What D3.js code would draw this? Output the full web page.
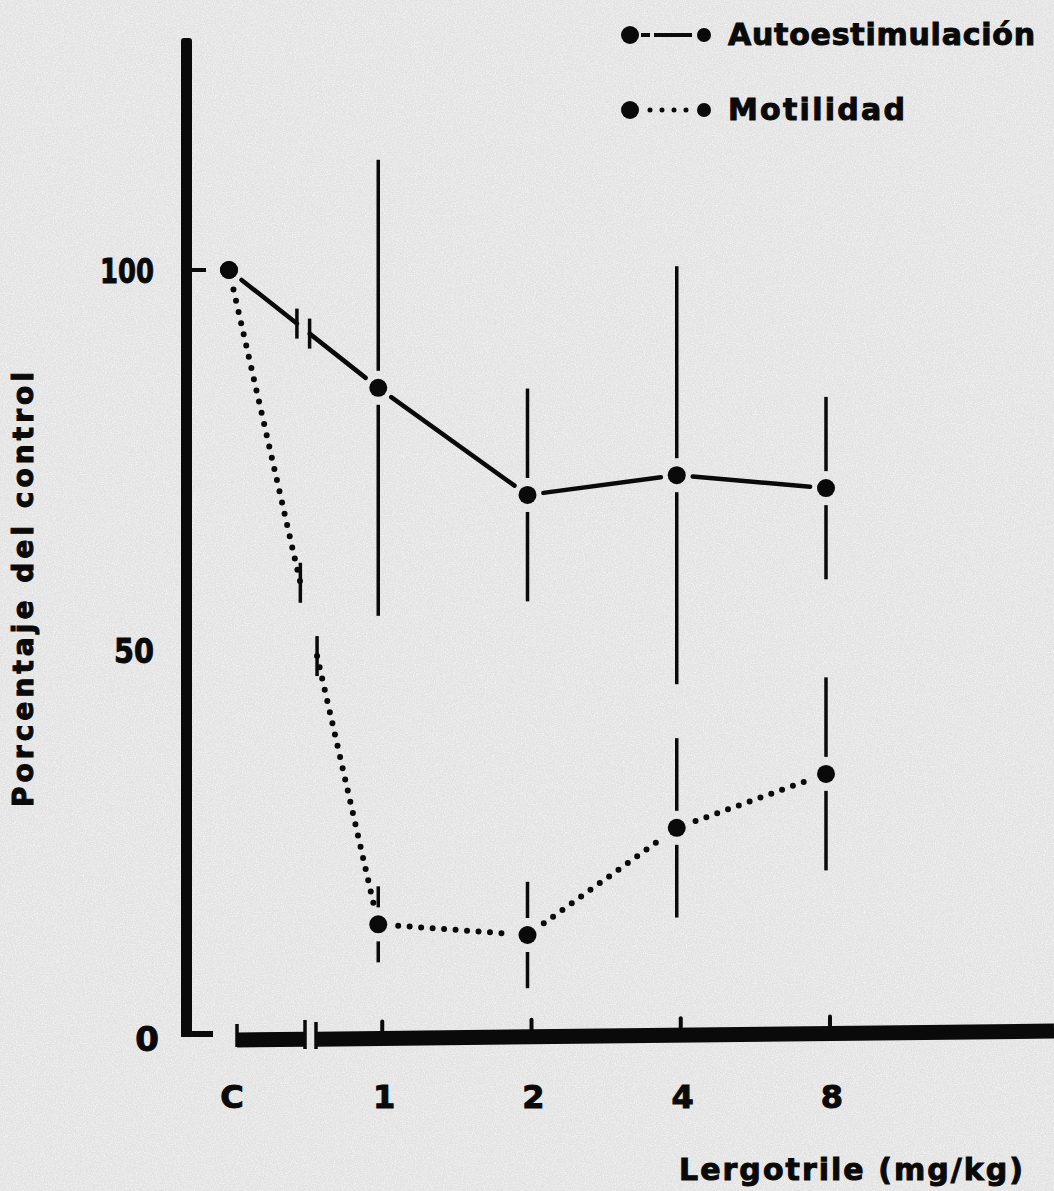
<!DOCTYPE html>
<html>
<head>
<meta charset="utf-8">
<script src="https://cdn.jsdelivr.net/npm/d3@7"></script>
<style>
  html, body { margin: 0; padding: 0; background: #e4e4e4; }
  svg { display: block; }
  text { font-family: "DejaVu Sans", "Liberation Sans", sans-serif; font-weight: 700; fill: #0a0a0a; stroke: #0a0a0a; stroke-width: 1px; }
</style>
</head>
<body>
<script>
// Dose groups (C = control) and the two measures, as % of control, with their error half-widths
const categories = ["C", "1", "2", "4", "8"];
const autoValues = [100, 84.5, 70.4, 73.0, 71.3];
const autoErrors = [0, 30, 14, 27.5, 12];
const motValues = [100, 13.9, 12.5, 26.6, 33.7];
const motErrors = [0, 5, 7, 11.8, 12.7];
const yTickValues = [0, 50, 100];
const seriesNames = ["Autoestimulación", "Motilidad"];
const xTitle = "Lergotrile (mg/kg)";
const yTitle = "Porcentaje del control";

const W = 1054, H = 1191;
const ink = "#0a0a0a";

const svg = d3.select("body").append("svg")
  .attr("width", W).attr("height", H);

// paper grain
const defs = svg.append("defs");
const grain = defs.append("filter").attr("id", "grain")
  .attr("x", 0).attr("y", 0).attr("width", "100%").attr("height", "100%");
grain.append("feTurbulence").attr("type", "fractalNoise")
  .attr("baseFrequency", 0.9).attr("numOctaves", 2).attr("seed", 7).attr("result", "n");
grain.append("feColorMatrix").attr("in", "n").attr("type", "matrix")
  .attr("values", "0 0 0 0 1  0 0 0 0 1  0 0 0 0 1  0 0 0 -2.2 1.35");

svg.append("rect").attr("width", W).attr("height", H).attr("fill", "#e2e2e2");
svg.append("rect").attr("width", W).attr("height", H).attr("filter", "url(#grain)").attr("opacity", 0.6);

const x = d3.scalePoint().domain(categories).range([229, 826]);
const y = d3.scaleLinear().domain([0, 100]).range([1030, 270]);

const g = svg.append("g");

// ---- y axis: heavy vertical rule with a foot, one tick at 100
g.append("rect").attr("x", 181).attr("y", 38).attr("width", 11).attr("height", 999)
  .attr("rx", 3).attr("fill", ink);
g.append("rect").attr("x", 181).attr("y", 1031).attr("width", 32).attr("height", 6).attr("fill", ink);
g.append("line").attr("x1", 192).attr("x2", 206).attr("y1", y(100)).attr("y2", y(100))
  .attr("stroke", ink).attr("stroke-width", 4);

g.selectAll("text.ytick").data(yTickValues).join("text")
  .attr("class", "ytick")
  .attr("x", d => d === 0 ? 159 : 154)
  .attr("y", d => y(d) + 13 + (d === 0 ? 8 : 0))
  .attr("text-anchor", "end")
  .attr("font-size", 34)
  .attr("textLength", d => d === 100 ? 54 : d === 50 ? 40 : null)
  .attr("lengthAdjust", "spacingAndGlyphs")
  .text(d => String(d));

// ---- x axis: thick broken bar with small ticks at each dose
const barL = 237, barR = W, yL = 1040, yR = 1031;
const barY = xx => yL + (yR - yL) * (xx - barL) / (barR - barL);
const brk1 = 305, brk2 = 316;
[[barL, brk1], [brk2, barR]].forEach(([a, b]) => {
  g.append("line").attr("x1", a).attr("x2", b).attr("y1", barY(a)).attr("y2", barY(b))
    .attr("stroke", ink).attr("stroke-width", 15);
});
[[barL, 1024, 1047], [brk1, 1020, 1049], [brk2, 1022, 1049]].forEach(([xx, a, b]) => {
  g.append("line").attr("x1", xx).attr("x2", xx).attr("y1", a).attr("y2", b)
    .attr("stroke", ink).attr("stroke-width", 3.5);
});
g.selectAll("line.xtick").data(categories.slice(1)).join("line")
  .attr("class", "xtick")
  .attr("x1", d => x(d) + 4).attr("x2", d => x(d) + 4)
  .attr("y1", d => barY(x(d)) - 17).attr("y2", d => barY(x(d)) - 5)
  .attr("stroke", ink).attr("stroke-width", 4).attr("stroke-linecap", "round");

g.selectAll("text.xtick").data(categories).join("text")
  .attr("class", "xtick")
  .attr("x", d => x(d) + (d === "C" ? 3 : 6))
  .attr("y", 1108)
  .attr("text-anchor", "middle")
  .attr("font-size", 32)
  .text(d => d);

// ---- axis titles
g.append("text").attr("x", 679).attr("y", 1180)
  .attr("font-size", 30).attr("textLength", 344).attr("lengthAdjust", "spacing")
  .text(xTitle);
g.append("text")
  .attr("transform", "translate(33,807) rotate(-90)")
  .attr("font-size", 28).attr("textLength", 435).attr("lengthAdjust", "spacing")
  .text(yTitle);

// ---- series
const series = [
  { values: autoValues, errors: autoErrors, dotted: false, brk: [0.455, 0.54], tick: 30 },
  { values: motValues, errors: motErrors, dotted: true, brk: [0.478, 0.59], tick: 40 }
];
const R = 9;

function lineStyle(sel, dotted) {
  sel.attr("stroke", ink).attr("fill", "none").attr("stroke-linecap", "round");
  if (dotted) sel.attr("stroke-width", 6).attr("stroke-dasharray", "0 11.5");
  else sel.attr("stroke-width", 4.5);
  return sel;
}

series.forEach(s => {
  const pts = categories.map((c, i) => ({ px: x(c), py: y(s.values[i]), v: s.values[i], e: s.errors[i] }));
  const gap = s.dotted ? 20 : 16;
  // connecting segments stop short of the markers
  for (let i = 0; i < pts.length - 1; i++) {
    const a = pts[i], b = pts[i + 1];
    const dx = b.px - a.px, dy = b.py - a.py, L = Math.hypot(dx, dy);
    const t0 = gap / L, t1 = 1 - gap / L;
    const at = t => [a.px + dx * t, a.py + dy * t];
    const pieces = i === 0 ? [[t0, s.brk[0]], [s.brk[1], t1]] : [[t0, t1]];
    pieces.forEach(([p, q]) => {
      const [x1, y1] = at(p), [x2, y2] = at(q);
      lineStyle(g.append("path").attr("d", `M${x1},${y1}L${x2},${y2}`), s.dotted);
    });
    if (i === 0) {
      // scale-break marks on the first segment
      s.brk.forEach(t => {
        const [bx, by] = at(t);
        g.append("line").attr("x1", bx).attr("x2", bx)
          .attr("y1", by - s.tick / 2).attr("y2", by + s.tick / 2)
          .attr("stroke", ink).attr("stroke-width", 3.5);
      });
    }
  }
  // error bars, split around each marker
  pts.filter(p => p.e > 0).forEach(p => {
    const top = y(p.v + p.e), bot = y(p.v - p.e), eg = 17;
    [[top, p.py - eg], [p.py + eg, bot]].forEach(([a, b]) => {
      g.append("line").attr("x1", p.px).attr("x2", p.px).attr("y1", a).attr("y2", b)
        .attr("stroke", ink).attr("stroke-width", 3.5);
    });
  });
  g.selectAll(null).data(pts).join("circle")
    .attr("cx", d => d.px).attr("cy", d => d.py).attr("r", R).attr("fill", ink);
});

// ---- legend
const legend = svg.append("g");
const rows = [{ y: 35, ty: 45 }, { y: 110, ty: 120 }];
seriesNames.forEach((name, i) => {
  const r = rows[i];
  legend.append("circle").attr("cx", 630).attr("cy", r.y).attr("r", 9).attr("fill", ink);
  legend.append("circle").attr("cx", 704).attr("cy", r.y).attr("r", 7).attr("fill", ink);
  const ln = legend.append("path").attr("d", `M${i ? 650 : 641},${r.y}L${i ? 688 : 692},${r.y}`);
  if (i === 0) ln.attr("stroke", ink).attr("stroke-width", 4).attr("stroke-dasharray", "9 4 60");
  else ln.attr("stroke", ink).attr("stroke-width", 5).attr("stroke-linecap", "round").attr("stroke-dasharray", "0 12");
  legend.append("text").attr("x", 728).attr("y", r.ty)
    .attr("font-size", 30)
    .attr("textLength", i ? 177 : 307).attr("lengthAdjust", "spacing")
    .text(name);
});
</script>
</body>
</html>
